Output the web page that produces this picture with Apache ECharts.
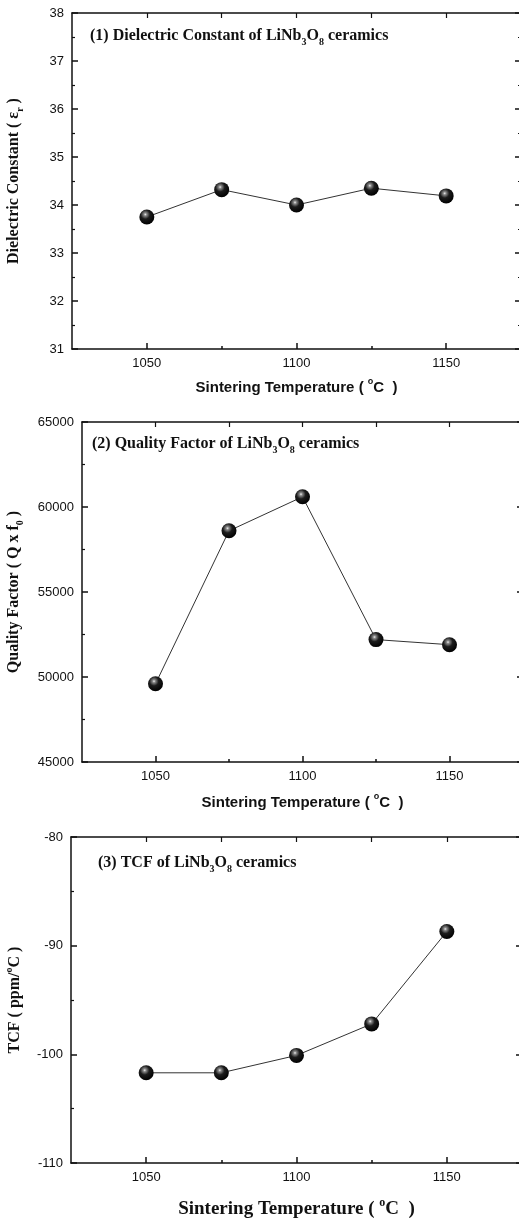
<!DOCTYPE html>
<html>
<head>
<meta charset="utf-8">
<script src="https://cdn.jsdelivr.net/npm/echarts@6/dist/echarts.min.js"></script>
<style>
  html, body { margin: 0; padding: 0; background: #fff; }
  #chart { width: 519px; height: 1219px; }
</style>
</head>
<body>
<div id="chart"></div>
<script>
// sintering temperatures (degC)
var temps = [1050, 1075, 1100, 1125, 1150];
var dielectric = [33.75, 34.32, 34.0, 34.35, 34.19];
var qualityFactor = [49600, 58600, 60600, 52200, 51900];
var tcf = [-101.7, -101.7, -100.1, -97.2, -88.7];

var xMajor = [1050, 1100, 1150];
var xMinor = [1075, 1125];

var SERIF = '"Liberation Serif", "Times New Roman", serif';
var SANS = '"Liberation Sans", Arial, sans-serif';
var INK = '#111';

function pairs(ys) {
  var out = [];
  for (var i = 0; i < temps.length; i++) {
    out.push([temps[i], ys[i]]);
  }
  return out;
}

// no thousands separators on tick labels
function plain(v) { return String(v); }

// rich styles for sub / superscripts
var richSerif = function (size) {
  return {
    sub: { fontFamily: SERIF, fontWeight: 'bold', fontSize: Math.round(size * 0.62), verticalAlign: 'bottom', lineHeight: size + 6, color: INK },
    sup: { fontFamily: SERIF, fontWeight: 'bold', fontSize: Math.round(size * 0.62), verticalAlign: 'top', lineHeight: size + 6, color: INK }
  };
};
var richSans = function (size) {
  return {
    sup: { fontFamily: SANS, fontWeight: 'bold', fontSize: Math.round(size * 0.62), verticalAlign: 'top', lineHeight: size + 6, color: INK }
  };
};

// plot rects in pixels (right edge runs a little off the picture)
var grids = [
  { left: 72, top: 13, width: 449, height: 336 },
  { left: 82, top: 422, width: 441, height: 340 },
  { left: 71, top: 837, width: 451, height: 326 }
];

var yCfg = [
  { min: 31, max: 38, interval: 1, name: 'Dielectric Constant ( ε{sub|r} )', gap: 47 },
  { min: 45000, max: 65000, interval: 5000, name: 'Quality Factor ( Q x f{sub|0} )', gap: 57 },
  { min: -110, max: -80, interval: 10, name: 'TCF ( ppm/{sup|o}C )', gap: 45 }
];

var xNames = [
  { text: 'Sintering Temperature ( {sup|o}C  )', serif: false, size: 15, gap: 28 },
  { text: 'Sintering Temperature ( {sup|o}C  )', serif: false, size: 15, gap: 30 },
  { text: 'Sintering Temperature ( {sup|o}C  )', serif: true, size: 19, gap: 34 }
];

var panelTitles = [
  { text: '(1) Dielectric Constant of LiNb{sub|3}O{sub|8} ceramics', left: 90, top: 25 },
  { text: '(2) Quality Factor of LiNb{sub|3}O{sub|8} ceramics', left: 92, top: 433 },
  { text: '(3) TCF of LiNb{sub|3}O{sub|8} ceramics', left: 98, top: 852 }
];

var seriesData = [dielectric, qualityFactor, tcf];

var xAxes = [], yAxes = [], series = [], titles = [];

grids.forEach(function (g, i) {
  var xn = xNames[i];
  xAxes.push({
    gridIndex: i, type: 'value', position: 'bottom', min: 1025, max: 1175,
    axisLine: { show: true, lineStyle: { color: INK, width: 1.5 } },
    axisTick: { inside: true, length: 6, customValues: xMajor, lineStyle: { color: INK, width: 1.5 } },
    axisLabel: { customValues: xMajor, formatter: plain, color: INK, fontFamily: SANS, fontSize: 13, margin: 8 },
    splitLine: { show: false },
    name: xn.text, nameLocation: 'middle', nameGap: xn.gap,
    nameTextStyle: {
      fontFamily: xn.serif ? SERIF : SANS, fontWeight: 'bold', fontSize: xn.size, color: INK,
      rich: xn.serif ? richSerif(xn.size) : richSans(xn.size)
    }
  });
  xAxes.push({
    gridIndex: i, type: 'value', position: 'bottom', min: 1025, max: 1175,
    axisLine: { show: false },
    axisTick: { inside: true, length: 3, customValues: xMinor, lineStyle: { color: INK, width: 1.5 } },
    axisLabel: { show: false },
    splitLine: { show: false }
  });
  xAxes.push({
    gridIndex: i, type: 'value', position: 'top', min: 1025, max: 1175,
    axisLine: { show: true, lineStyle: { color: INK, width: 1.5 } },
    axisTick: { inside: true, length: 5, customValues: temps, lineStyle: { color: INK, width: 1.2 } },
    axisLabel: { show: false },
    splitLine: { show: false }
  });

  var yc = yCfg[i];
  yAxes.push({
    gridIndex: i, type: 'value', position: 'left', min: yc.min, max: yc.max, interval: yc.interval,
    axisLine: { show: true, lineStyle: { color: INK, width: 1.5 } },
    axisTick: { inside: true, length: 6, lineStyle: { color: INK, width: 1.5 } },
    minorTick: { show: true, splitNumber: 2, length: 3, lineStyle: { color: INK, width: 1.2 } },
    axisLabel: { formatter: plain, color: INK, fontFamily: SANS, fontSize: 13, margin: 8 },
    splitLine: { show: false },
    name: yc.name, nameLocation: 'middle', nameGap: yc.gap, nameRotate: 90,
    nameTextStyle: { fontFamily: SERIF, fontWeight: 'bold', fontSize: 16, color: INK, rich: richSerif(16) }
  });
  // right mirror axis: its line sits just off the picture, only ticks show
  yAxes.push({
    gridIndex: i, type: 'value', position: 'right', min: yc.min, max: yc.max, interval: yc.interval,
    axisLine: { show: false },
    axisTick: { show: true, inside: true, length: 6, lineStyle: { color: INK, width: 1.5 } },
    minorTick: { show: true, splitNumber: 2, length: 3, lineStyle: { color: INK, width: 1.2 } },
    axisLabel: { show: false },
    splitLine: { show: false }
  });

  series.push({
    type: 'line',
    xAxisIndex: i * 3,
    yAxisIndex: i * 2,
    data: pairs(seriesData[i]),
    symbol: 'circle',
    symbolSize: 15,
    lineStyle: { color: '#333', width: 1 },
    itemStyle: {
      color: {
        type: 'radial', x: 0.4, y: 0.33, r: 0.68,
        colorStops: [
          { offset: 0, color: '#f0f0f0' },
          { offset: 0.14, color: '#8a8a8a' },
          { offset: 0.45, color: '#1c1c1c' },
          { offset: 1, color: '#000' }
        ]
      },
      borderWidth: 0
    },
    animation: false
  });

  var pt = panelTitles[i];
  titles.push({
    text: pt.text, left: pt.left, top: pt.top, padding: 0,
    textStyle: { fontFamily: SERIF, fontWeight: 'bold', fontSize: 16, color: INK, lineHeight: 22, rich: richSerif(16) }
  });
});

var chart = echarts.init(document.getElementById('chart'), null, { renderer: 'canvas' });
chart.setOption({
  backgroundColor: '#fff',
  animation: false,
  title: titles,
  grid: grids.map(function (g) {
    return { left: g.left, top: g.top, width: g.width, height: g.height, outerBoundsMode: 'none' };
  }),
  xAxis: xAxes,
  yAxis: yAxes,
  series: series
});
</script>
</body>
</html>
